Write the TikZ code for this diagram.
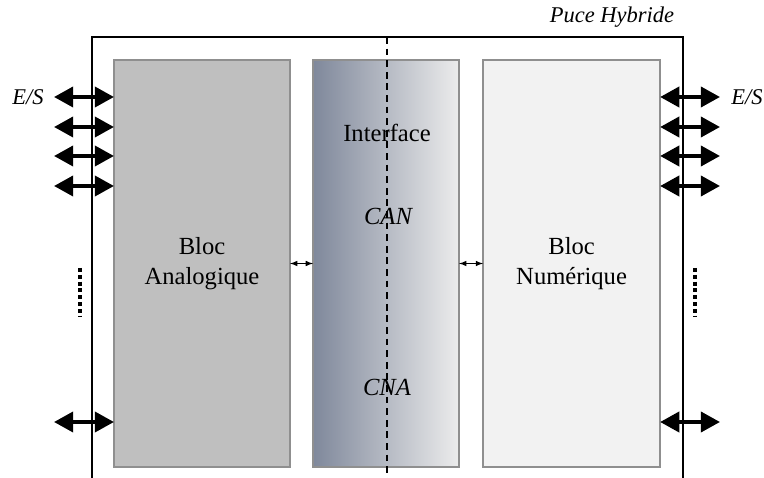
\documentclass[tikz,border=0pt]{standalone}
\usepackage{fontspec}
\setmainfont{Liberation Serif}
\usepackage{tikz}
\usetikzlibrary{arrows.meta}
\usetikzlibrary{positioning}
\tikzset{>=latex}

\definecolor{bordbloc}{HTML}{8F8F8F}
\definecolor{grisana}{HTML}{BFBFBF}
\definecolor{grisnum}{HTML}{F2F2F2}
\definecolor{intfsombre}{HTML}{7F889B}
\definecolor{intfclair}{HTML}{ECECEC}

\begin{document}
\begin{tikzpicture}[x=0.025cm, y=-0.025cm,
    bloc/.style={draw=bordbloc, line width=1pt, minimum height=10.175cm,
        inner sep=0pt, outer sep=0pt, align=center,
        font=\fontsize{17.5}{21.5}\selectfont},
    ioarrow/.style={{Triangle[length=0.48cm,width=0.5cm]}-{Triangle[length=0.48cm,width=0.5cm]},
        line width=0.1cm},
    etiq/.style={font=\fontsize{16}{18}\selectfont\itshape},
    texte/.style={font=\fontsize{17.5}{20}\selectfont}]
    \useasboundingbox (0,0) rectangle (764,478);

    % puce
    \draw [line width=1.4pt] (92,478) |- (683,37) -- (683,478);
    \node [etiq] (puce) at (612,17) {Puce Hybride};

    % blocs
    \node [bloc, fill=grisana, minimum width=4.4cm] (ana) at (202,263.5) {Bloc\\Analogique};
    \node [bloc, left color=intfsombre, right color=intfclair, minimum width=3.65cm,
        right=0.575cm of ana] (intf) {};
    \node [bloc, fill=grisnum, minimum width=4.425cm, right=0.6cm of intf] (num) {Bloc\\Num\'erique};

    \draw [line width=1pt, dash pattern=on 0.17cm off 0.12cm] (387,37) -- (387,478);

    \node [texte] (interface) at (387,133) {Interface};
    \node [texte, font=\fontsize{17.5}{20}\selectfont\itshape] (can) at (388,216) {CAN};
    \node [texte, font=\fontsize{17.5}{20}\selectfont\itshape] (cna) at (387,387) {CNA};

    \draw [<->, line width=0.8pt] (ana) -- (intf);
    \draw [<->, line width=0.8pt] (intf) -- (num);

    % entrees / sorties
    \foreach \y [count=\i] in {97,127,156,186,422} {
        \coordinate (esg\i) at (54,\y);
        \coordinate (esd\i) at (720,\y);
        \draw [ioarrow] (esg\i) -- (esg\i -| ana.west);
        \draw [ioarrow] (esd\i -| num.east) -- (esd\i);
    }
    \node [etiq] (esgauche) at (28,97) {E/S};
    \node [etiq] (esdroite) at (747,97) {E/S};

    \draw [line width=0.1cm, dash pattern=on 0.1cm off 0.07cm] (80,268) -- (80,317);
    \draw [line width=0.1cm, dash pattern=on 0.1cm off 0.07cm] (695,268) -- (695,317);
\end{tikzpicture}
\end{document}
